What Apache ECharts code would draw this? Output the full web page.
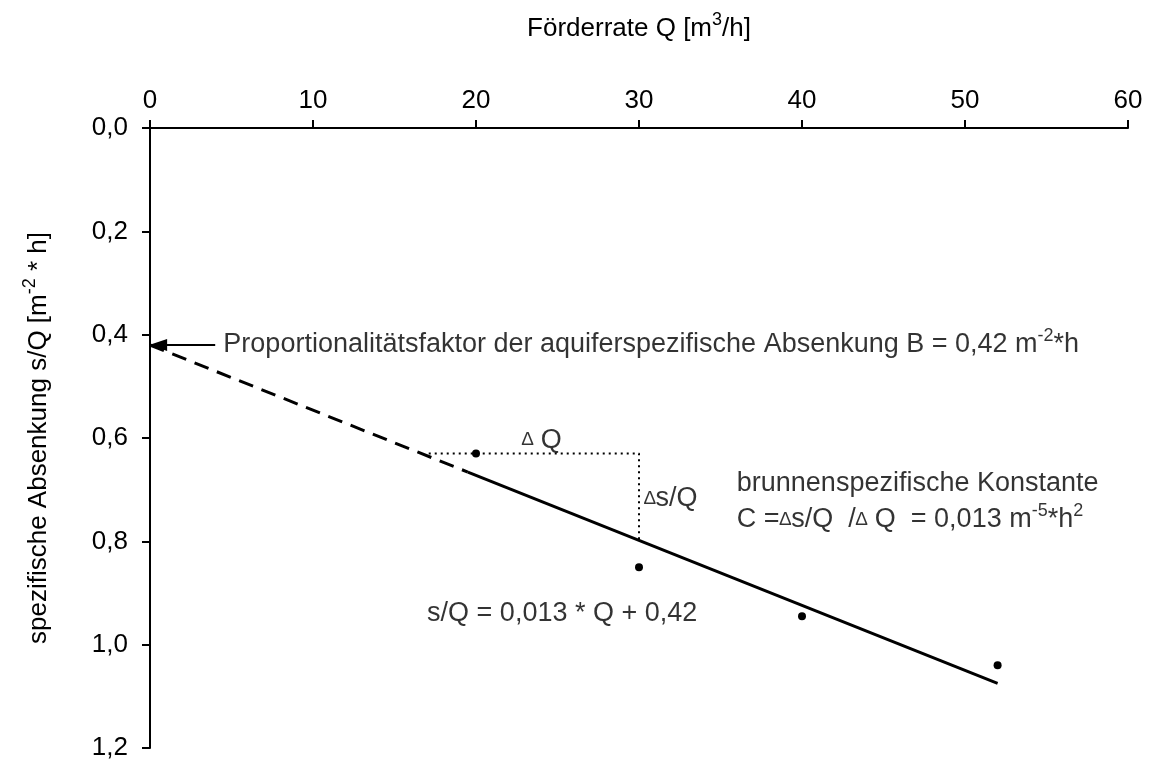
<!DOCTYPE html>
<html>
<head>
<meta charset="utf-8">
<script src="https://cdn.jsdelivr.net/npm/echarts@6/dist/echarts.min.js"></script>
<style>
  html, body { margin: 0; padding: 0; background: #fff; }
  #chart { width: 1150px; height: 765px; }
</style>
</head>
<body>
<div id="chart"></div>
<script>
// measured points (Förderrate Q, s/Q)
const pumpRate = [20, 30, 40, 52];
const specDrawdown = [0.63, 0.85, 0.945, 1.04];

// fitted straight line, dashed extrapolation to Q = 0
const fitDashed = [[0, 0.42], [19.5, 0.666]];
const fitSolid = [[19.5, 0.666], [52, 1.075]];

// slope triangle (dotted)
const slopeGuide = [[17.1, 0.63], [30, 0.63], [30, 0.798]];

// arrow to the intercept
const arrowFrom = [4.0, 0.42];
const arrowTo = [0.5, 0.42];

// text notes, anchored on the left edge at data coordinates
const noteX = [4.5, 22.8, 30.3, 36.0, 36.0, 17.0];
const noteY = [0.42, 0.604, 0.718, 0.688, 0.758, 0.94];
const noteText = [
  "{t|Proportionalitätsfaktor der aquiferspezifische Absenkung B = 0,42 m}{sup|-2}{t|*h}",
  "{d|∆}{t| Q}",
  "{d|∆}{t|s/Q}",
  "{t|brunnenspezifische Konstante}",
  "{t|C =}{d|∆}{t|s/Q  /}{d|∆}{t| Q  = 0,013 m}{sup|-5}{t|*h}{sup|2}",
  "{t|s/Q = 0,013 * Q + 0,42}"
];

const xTicks = [0, 10, 20, 30, 40, 50, 60];
const yTicks = [0, 0.2, 0.4, 0.6, 0.8, 1.0, 1.2];

const FONT = "Liberation Sans, Arial, sans-serif";
const richStyles = {
  t: { fontSize: 27, fontFamily: FONT, color: "#000" },
  d: { fontSize: 19, fontFamily: FONT, color: "#000" },
  sup: { fontSize: 18, fontFamily: FONT, color: "#000", padding: [0, 0, 17, 0] }
};
const nameRich = {
  t: { fontSize: 26, fontFamily: FONT, color: "#000" },
  sup: { fontSize: 18, fontFamily: FONT, color: "#000", padding: [0, 0, 17, 0] }
};

const chart = echarts.init(document.getElementById("chart"), null, { renderer: "canvas" });

const option = {
  backgroundColor: "#fff",
  animation: false,
  grid: { left: 150, right: 22, top: 128, bottom: 17, containLabel: false, outerBoundsMode: "none" },
  xAxis: {
    type: "value",
    position: "top",
    min: xTicks[0],
    max: xTicks[xTicks.length - 1],
    interval: 10,
    name: "{t|Förderrate Q [m}{sup|3}{t|/h]}",
    nameLocation: "middle",
    nameGap: 82,
    nameTextStyle: { color: "#000", rich: nameRich },
    axisLine: { lineStyle: { color: "#000", width: 2 } },
    axisTick: { inside: false, length: 8, lineStyle: { color: "#000", width: 2 } },
    axisLabel: { color: "#000", fontSize: 26, fontFamily: FONT, margin: 14 },
    splitLine: { show: false }
  },
  yAxis: {
    type: "value",
    inverse: true,
    min: yTicks[0],
    max: yTicks[yTicks.length - 1],
    interval: 0.2,
    name: "{t|spezifische Absenkung s/Q [m}{sup|-2}{t| * h]}",
    nameLocation: "middle",
    nameGap: 94,
    nameTextStyle: { color: "#000", rich: nameRich },
    axisLine: { lineStyle: { color: "#000", width: 2 } },
    axisTick: { inside: false, length: 8, lineStyle: { color: "#000", width: 2 } },
    axisLabel: {
      color: "#000",
      fontSize: 26,
      fontFamily: FONT,
      margin: 22,
      formatter: (v) => v.toFixed(1).replace(".", ",")
    },
    splitLine: { show: false }
  },
  series: [
    {
      type: "line",
      data: fitDashed,
      symbol: "none",
      lineStyle: { color: "#000", width: 3, type: [15, 9] },
      z: 3
    },
    {
      type: "line",
      data: fitSolid,
      symbol: "none",
      lineStyle: { color: "#000", width: 3 },
      z: 3
    },
    {
      type: "line",
      data: slopeGuide,
      symbol: "none",
      lineStyle: { color: "#000", width: 2, type: [2, 4] },
      z: 2,
      markLine: {
        silent: true,
        label: { show: false },
        lineStyle: { color: "#000", width: 2, type: "solid" },
        symbol: ["none", "triangle"],
        symbolSize: [12, 18],
        data: [[{ coord: arrowFrom }, { coord: arrowTo }]]
      }
    },
    {
      type: "scatter",
      data: pumpRate.map((q, i) => [q, specDrawdown[i]]),
      symbol: "circle",
      symbolSize: 8,
      itemStyle: { color: "#000", opacity: 1 },
      z: 4
    },
    {
      type: "scatter",
      data: noteX.map((x, i) => [x, noteY[i], i]),
      symbolSize: 0,
      silent: true,
      label: {
        show: true,
        position: "right",
        distance: 0,
        color: "#000",
        formatter: (p) => noteText[p.data[2]],
        rich: richStyles
      },
      z: 5
    }
  ]
};

chart.setOption(option);
window.addEventListener("resize", () => chart.resize());
</script>
</body>
</html>
